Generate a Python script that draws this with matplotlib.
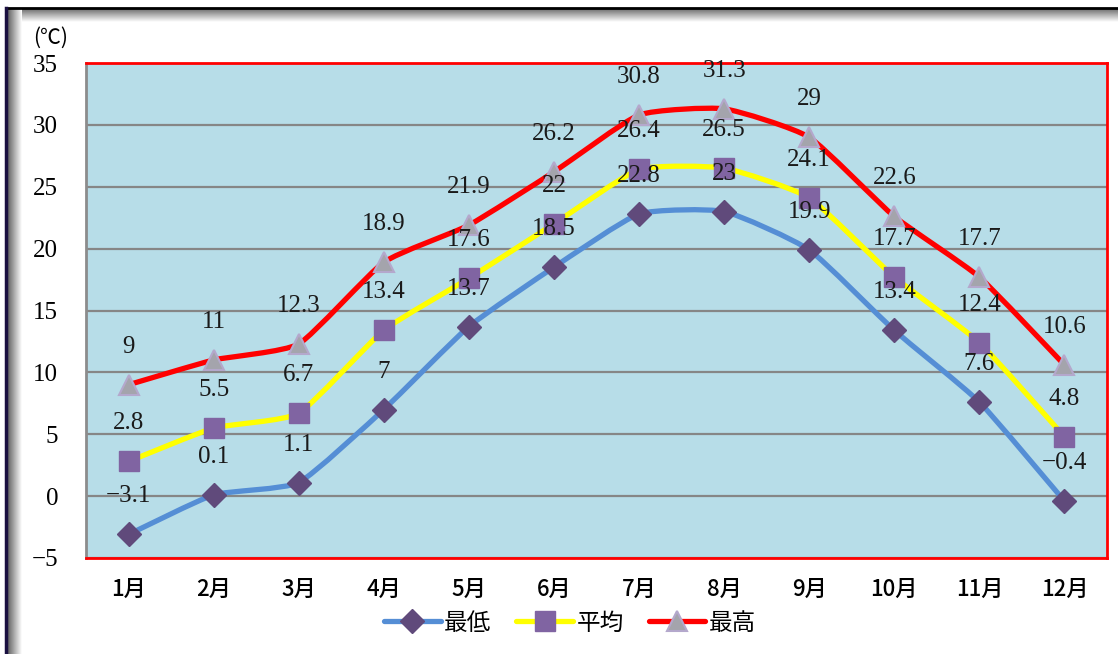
import numpy as np
import matplotlib
matplotlib.use('Agg')
import matplotlib.pyplot as plt
from matplotlib.path import Path
from matplotlib.patches import PathPatch
from matplotlib.lines import Line2D

months = ['1月', '2月', '3月', '4月', '5月', '6月', '7月', '8月', '9月', '10月', '11月', '12月']
t_min = [-3.1, 0.1, 1.1, 7, 13.7, 18.5, 22.8, 23, 19.9, 13.4, 7.6, -0.4]
t_avg = [2.8, 5.5, 6.7, 13.4, 17.6, 22, 26.4, 26.5, 24.1, 17.7, 12.4, 4.8]
t_max = [9, 11, 12.3, 18.9, 21.9, 26.2, 30.8, 31.3, 29, 22.6, 17.7, 10.6]
series_names = ['最低', '平均', '最高']
y_ticks = [-5, 0, 5, 10, 15, 20, 25, 30, 35]

cjk = ['Noto Sans CJK JP', 'DejaVu Sans']
serif = ['Liberation Serif', 'DejaVu Serif']


def smooth_path(xs, ys, k=12.0):
    # mild bezier through the points (spreadsheet-like smoothed line)
    pts = np.column_stack([xs, ys]).astype(float)
    n = len(pts)
    verts = [pts[0]]
    codes = [Path.MOVETO]
    for i in range(n - 1):
        p0 = pts[i - 1] if i > 0 else pts[i]
        p1 = pts[i]
        p2 = pts[i + 1]
        p3 = pts[i + 2] if i + 2 < n else pts[i + 1]
        verts += [p1 + (p2 - p0) / k, p2 - (p3 - p1) / k, p2]
        codes += [Path.CURVE4] * 3
    return Path(verts, codes)


fig = plt.figure(figsize=(11.18, 6.54), dpi=100)
fig.patch.set_facecolor('white')

# outer frame with shadow
bg = fig.add_axes([0, 0, 1, 1], zorder=-5)
bg.set_xlim(0, 1118)
bg.set_ylim(654, 0)
bg.axis('off')
grad = np.linspace(0.4, 1.0, 64)
bg.imshow(np.tile(grad[:, None], (1, 2)), cmap='gray', vmin=0, vmax=1,
          extent=(8, 1118, 22, 8), aspect='auto')
bg.imshow(np.tile(grad[None, :], (2, 1)), cmap='gray', vmin=0, vmax=1,
          extent=(8, 22, 654, 8), aspect='auto')
bg.plot([7, 1118], [8, 8], color='black', lw=2)
bg.plot([6, 6], [8, 654], color='#1a1040', lw=2.5)

ax = fig.add_axes([86 / 1118, 1 - 558 / 654, (1107 - 86) / 1118, (558 - 63) / 654])
ax.set_facecolor('#B7DDE8')
x = np.arange(len(months))
ax.set_xlim(-0.5, len(months) - 0.5)
ax.set_ylim(-5, 35)
ax.set_yticks(y_ticks)
ax.set_xticks(x)
ax.set_xticklabels(months, fontfamily=cjk, fontsize=16, fontweight='medium')
for lab in ax.get_yticklabels():
    lab.set_fontfamily(serif)
    lab.set_fontsize(18)
ax.tick_params(axis='both', length=0)
ax.tick_params(axis='y', pad=20)
ax.tick_params(axis='x', pad=14)
ax.grid(axis='y', color='#868686', lw=1.6)
ax.set_axisbelow(True)
for s in ['top', 'right', 'bottom']:
    ax.spines[s].set_color('#FF0000')
    ax.spines[s].set_linewidth(2)
ax.spines['left'].set_color('#8C8C8C')
ax.spines['left'].set_linewidth(2)

styles = [
    (t_min, '#558ED5', dict(marker='D', ms=12, mfc='#604A7B', mec='#604A7B')),
    (t_avg, '#FFFF00', dict(marker='s', ms=14, mfc='#8064A2', mec='#8064A2')),
    (t_max, '#FF0000', dict(marker='^', ms=15, mfc='#A4A4AC', mec='#B4A8CC', mew=1.5)),
]
handles = []
for vals, color, mk in styles:
    ax.add_patch(PathPatch(smooth_path(x, vals), facecolor='none', edgecolor=color,
                           lw=3.8, capstyle='round', joinstyle='round', zorder=3))
    ax.plot(x, vals, linestyle='none', zorder=4, **mk)
    for xi, v in zip(x, vals):
        ax.annotate(f'{v:g}'.replace('-', '\u2212'), (xi, v), xytext=(0, 38),
                    textcoords='offset pixels', ha='center', va='center',
                    fontsize=18, fontfamily=serif, color='#1a1a1a', zorder=5)
    handles.append(Line2D([], [], color=color, lw=3.8, solid_capstyle='round', **mk))

fig.text(33 / 1118, 1 - 38 / 654, '(℃)', fontsize=15, fontfamily=cjk,
         ha='left', va='center')

fig.legend(handles, series_names, loc='center', bbox_to_anchor=(570 / 1118, 1 - 623 / 654),
           ncol=3, frameon=False, prop={'family': cjk, 'size': 17},
           handlelength=2.4, handletextpad=0.15, columnspacing=1.05)

fig.savefig('out.png', dpi=100)
